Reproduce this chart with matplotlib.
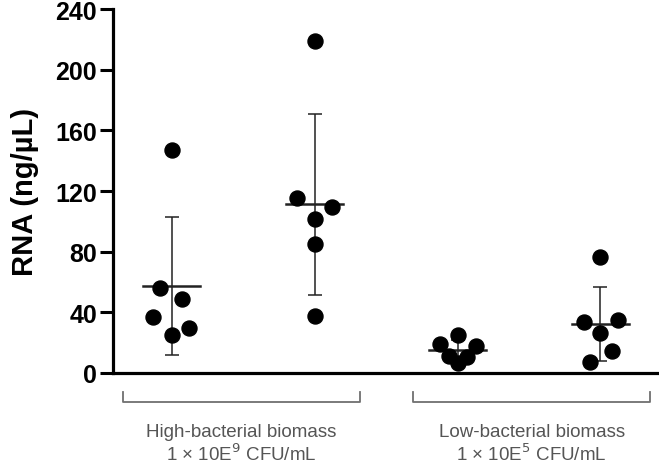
import numpy as np
import matplotlib
matplotlib.use("Agg")
import matplotlib.pyplot as plt
import matplotlib.transforms as mtransforms

plt.rcParams['font.family'] = ['Liberation Sans', 'DejaVu Sans']

# RNA yield (ng/uL)
high_a = [146.8, 56.1, 48.9, 36.7, 29.7, 25.3]
high_b = [218.8, 115.6, 109.4, 101.3, 85.2, 37.8]
low_a = [25.3, 19.4, 18.0, 11.0, 10.3, 6.6]
low_b = [76.5, 33.4, 35.2, 26.4, 14.3, 7.0]
groups = [high_a, high_b, low_a, low_b]

# horizontal offsets of the dots in each swarm (in group-spacing units)
jitter = [
    [0, -0.082, 0.074, -0.129, 0.119, 0],
    [0, -0.123, 0.122, 0, 0, 0],
    [0, -0.126, 0.129, -0.063, 0.066, 0],
    [0, -0.117, 0.124, 0, 0.082, -0.075],
]

names = ["High-bacterial biomass", "Low-bacterial biomass"]
doses = ["1 × 10E$^9$ CFU/mL", "1 × 10E$^5$ CFU/mL"]

fig = plt.figure(figsize=(6.59, 4.64), dpi=100)
ax = fig.add_axes([0.1715, 0.194, 0.8285, 0.784])

for i, vals in enumerate(groups):
    x = i + 1
    vals = np.array(vals)
    m = vals.mean()
    sd = vals.std(ddof=1)
    ax.errorbar(x, m, yerr=sd, fmt='none', ecolor='#222222', elinewidth=1.1,
                capsize=4.7, capthick=1.1, zorder=2)
    ax.plot([x - 0.2, x + 0.2], [m, m], color='#222222', lw=1.8, zorder=2)
    ax.plot(x + np.array(jitter[i]), vals, 'o', color='black', ms=10.8,
            mec='black', zorder=3)

ax.set_xlim(0.589, 4.41)
ax.set_ylim(0, 240)
ax.set_yticks([0, 40, 80, 120, 160, 200, 240])
ax.set_xticks([])
ax.spines['top'].set_visible(False)
ax.spines['right'].set_visible(False)
ax.spines['left'].set_linewidth(2.3)
ax.spines['bottom'].set_linewidth(2.3)
ax.tick_params(axis='y', direction='out', length=9.5, width=2.2, pad=2)
for t in ax.get_yticklabels():
    t.set_fontsize(18)
    t.set_fontweight('bold')
ax.set_ylabel("RNA (ng/µL)", fontsize=21, fontweight='bold', labelpad=12)

trans = mtransforms.blended_transform_factory(ax.transData, ax.transAxes)
brackets = [(0.657, 2.319), (2.688, 4.349)]
for (x0, x1), name, dose in zip(brackets, names, doses):
    ax.plot([x0, x0, x1, x1], [-0.052, -0.080, -0.080, -0.052], color='#707070',
            lw=1.3, transform=trans, clip_on=False)
    xc = (x0 + x1) / 2
    ax.text(xc, -0.172, name, transform=trans, ha='center', va='baseline',
            fontsize=13.5, color='#555555')
    ax.text(xc, -0.238, dose, transform=trans, ha='center', va='baseline',
            fontsize=13.5, color='#555555')

fig.savefig("out.png", dpi=100)
